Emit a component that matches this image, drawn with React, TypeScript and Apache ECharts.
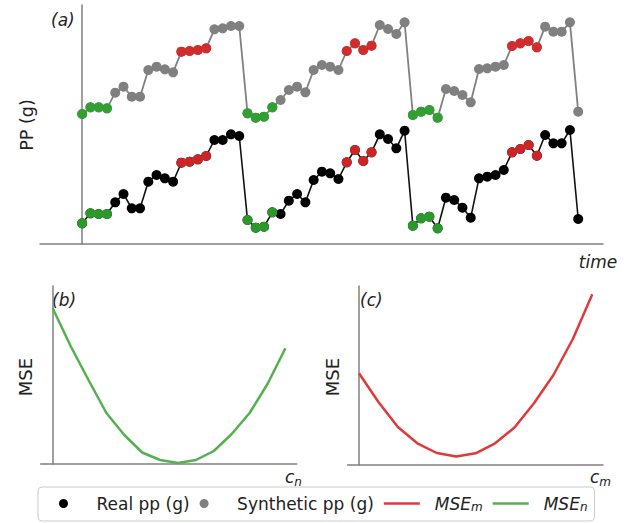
import React, { useEffect, useRef } from "react";
import * as echarts from "echarts";

// Panel (a): synthetic and real pp (g) over time (61 samples, 3 cycles of 20 + 1)
const synthetic = [
  13.0, 13.67, 13.67, 13.57, 15.13, 15.73, 14.73, 14.73, 17.4, 17.73, 17.47, 17.17, 19.23, 19.3, 19.4, 19.57, 21.47, 21.57, 21.8, 21.8,
  13.07, 12.63, 12.73, 13.67, 14.4, 15.4, 15.73, 15.17, 17.4, 17.9, 17.73, 17.4, 19.3, 20.07, 19.4, 19.83, 21.9, 21.5, 21.0, 22.17,
  12.9, 13.23, 13.4, 12.63, 15.5, 15.3, 14.9, 14.17, 17.5, 17.57, 17.73, 17.9, 19.8, 20.07, 20.3, 19.67, 21.73, 21.23, 21.23, 22.17,
  13.23,
];
const real = [
  2.07, 3.07, 3.0, 3.0, 4.17, 5.0, 3.57, 3.57, 6.23, 6.9, 6.57, 6.23, 8.13, 8.23, 8.47, 8.8, 10.4, 10.4, 10.97, 10.8,
  2.4, 1.63, 1.73, 3.17, 3.0, 4.33, 5.0, 4.17, 6.4, 7.23, 7.07, 6.5, 8.17, 9.4, 8.3, 9.17, 10.97, 10.5, 9.57, 11.33,
  1.83, 2.57, 2.73, 1.57, 4.63, 4.4, 3.63, 2.63, 6.57, 6.73, 6.9, 7.4, 9.17, 9.5, 9.9, 8.83, 10.9, 10.07, 10.07, 11.4,
  2.5,
];
const greenIdx = [0, 1, 2, 3, 20, 21, 22, 23, 40, 41, 42, 43];
const redIdx = [12, 13, 14, 15, 32, 33, 34, 35, 52, 53, 54, 55];

// Panel (b): MSE vs c_n ; Panel (c): MSE vs c_m
const mseN = [155.7, 118, 84, 51, 29, 11.5, 4, 1, 4, 13, 30, 51, 80, 115.7];
const mseM = [91.7, 63, 38, 21.7, 12, 8.5, 11.7, 21.7, 37.5, 61.7, 90, 126, 170.7];

const legendNames = ["Real pp (g)", "Synthetic pp (g)", "MSE_m", "MSE_n"];

const FONT = "DejaVu Sans";
const AXIS = "#808080";
const GRAY = "#808080";
const BLACK = "#000000";
const GREEN = "#2ca02c";
const RED = "#d62728";
const LGREEN = "#55b04f";
const LRED = "#e0393c";

function axisCommon(extra: any) {
  return {
    type: "value",
    axisLine: { show: true, lineStyle: { color: AXIS, width: 1.5 } },
    axisTick: { show: false },
    axisLabel: { show: false },
    splitLine: { show: false },
    ...extra,
  };
}

export default function App() {
  const ref = useRef<HTMLDivElement>(null);
  useEffect(() => {
    if (!ref.current) return;
    const chart = echarts.init(ref.current, undefined, { renderer: "svg" });
    const pts = (arr: number[]) => arr.map((v, i) => [i, v]);
    const pick = (arr: number[], idx: number[]) => idx.map((i) => [i, arr[i]]);
    const textStyle = (text: string, size: number, italic: boolean, extra: any = {}) => ({
      text,
      fontSize: size,
      fontFamily: FONT,
      fontStyle: italic ? "italic" : "normal",
      fill: "#222",
      ...extra,
    });
    const subText = (base: string, sub: string) => ({
      text: `{a|${base}}{b|${sub}}`,
      fill: "#222",
      rich: {
        a: { fontSize: 17, fontStyle: "italic", fontFamily: FONT, fill: "#222", verticalAlign: "bottom" },
        b: { fontSize: 12, fontStyle: "italic", fontFamily: FONT, fill: "#222", verticalAlign: "bottom", padding: [0, 0, -3, 0] },
      },
    });
    const lineIcon = "path://M0,0 L36,0 L36,2.5 L0,2.5 Z";

    chart.setOption({
      animation: false,
      grid: [
        { left: 40, top: 5, width: 563, height: 239 },
        { left: 40.7, top: 286, width: 256, height: 178 },
        { left: 347.7, top: 286, width: 255.3, height: 179 },
      ],
      xAxis: [
        axisCommon({ gridIndex: 0, min: -5.1, max: 63 }),
        axisCommon({ gridIndex: 1, min: -0.67, max: 13.63 }),
        axisCommon({ gridIndex: 2, min: -0.58, max: 12.55 }),
      ],
      yAxis: [
        axisCommon({ gridIndex: 0, min: 0, max: 23.9 }),
        axisCommon({ gridIndex: 1, min: 0, max: 178 }),
        axisCommon({ gridIndex: 2, min: 0, max: 179 }),
      ],
      legend: {
        data: [
          { name: legendNames[0], icon: "circle" },
          { name: legendNames[1], icon: "circle" },
          { name: legendNames[2], icon: lineIcon },
          { name: legendNames[3], icon: lineIcon },
        ],
        left: 38,
        top: 487,
        orient: "horizontal",
        itemWidth: 36,
        itemHeight: 9,
        itemGap: 10,
        padding: [8, 7, 8, 21],
        borderColor: "#cccccc",
        borderWidth: 1,
        borderRadius: 4,
        selectedMode: false,
        formatter: (name: string) => {
          if (name === "MSE_m") return "{i|MSE}{s|m}";
          if (name === "MSE_n") return "{i|MSE}{s|n}";
          if (name === "Real pp (g)") return "{r|" + name + "}";
          return "{t|" + name + "}";
        },
        textStyle: {
          fontFamily: FONT,
          fontSize: 17,
          color: "#222",
          rich: {
            r: { fontFamily: FONT, fontSize: 17, color: "#222", padding: [0, 10, 0, 10] },
            t: { fontFamily: FONT, fontSize: 17, color: "#222", padding: [0, 0, 0, 10] },
            i: { fontFamily: FONT, fontSize: 17, fontStyle: "italic", color: "#222", padding: [0, 0, 0, 10] },
            s: { fontFamily: FONT, fontSize: 12, fontStyle: "italic", color: "#222", padding: [7, 0, 0, 0] },
          },
        },
      },
      series: [
        {
          name: "Synthetic pp (g)",
          type: "line",
          xAxisIndex: 0,
          yAxisIndex: 0,
          data: pts(synthetic),
          symbol: "circle",
          symbolSize: 10,
          showAllSymbol: true,
          lineStyle: { color: GRAY, width: 1.8 },
          itemStyle: { color: GRAY },
          z: 2,
        },
        {
          name: "Real pp (g)",
          type: "line",
          xAxisIndex: 0,
          yAxisIndex: 0,
          data: pts(real),
          symbol: "circle",
          symbolSize: 10,
          showAllSymbol: true,
          lineStyle: { color: "#111", width: 1.6 },
          itemStyle: { color: BLACK },
          z: 2,
        },
        {
          type: "scatter",
          xAxisIndex: 0,
          yAxisIndex: 0,
          data: pick(synthetic, greenIdx).concat(pick(real, greenIdx)),
          symbolSize: 10,
          itemStyle: { color: GREEN, opacity: 0.95 },
          z: 3,
        },
        {
          type: "scatter",
          xAxisIndex: 0,
          yAxisIndex: 0,
          data: pick(synthetic, redIdx).concat(pick(real, redIdx)),
          symbolSize: 10,
          itemStyle: { color: RED, opacity: 0.95 },
          z: 3,
        },
        {
          name: "MSE_n",
          type: "line",
          xAxisIndex: 1,
          yAxisIndex: 1,
          data: pts(mseN),
          symbol: "none",
          lineStyle: { color: LGREEN, width: 2.5 },
          itemStyle: { color: LGREEN },
        },
        {
          name: "MSE_m",
          type: "line",
          xAxisIndex: 2,
          yAxisIndex: 2,
          data: pts(mseM),
          symbol: "none",
          lineStyle: { color: LRED, width: 2.5 },
          itemStyle: { color: LRED },
        },
      ],
      graphic: [
        { type: "text", x: 51, y: 20, style: textStyle("(a)", 17, true, { textAlign: "left", textVerticalAlign: "middle" }) },
        { type: "text", x: 27, y: 125, rotation: Math.PI / 2, style: textStyle("PP (g)", 17.5, false, { textAlign: "center", textVerticalAlign: "middle" }) },
        { type: "text", x: 598, y: 262, style: textStyle("time", 17, true, { textAlign: "center", textVerticalAlign: "middle" }) },
        { type: "text", x: 52, y: 300, style: textStyle("(b)", 17, true, { textAlign: "left", textVerticalAlign: "middle" }) },
        { type: "text", x: 25, y: 377, rotation: Math.PI / 2, style: textStyle("MSE", 18, false, { textAlign: "center", textVerticalAlign: "middle" }) },
        { type: "text", x: 360, y: 300, style: textStyle("(c)", 17, true, { textAlign: "left", textVerticalAlign: "middle" }) },
        { type: "text", x: 332, y: 377, rotation: Math.PI / 2, style: textStyle("MSE", 18, false, { textAlign: "center", textVerticalAlign: "middle" }) },
        { type: "text", x: 285, y: 468, style: subText("c", "n") },
        { type: "text", x: 590, y: 468, style: subText("c", "m") },
      ],
    });
    return () => chart.dispose();
  }, []);
  return <div ref={ref} style={{ position: "absolute", left: 0, top: 0, width: 641, height: 523 }} />;
}
